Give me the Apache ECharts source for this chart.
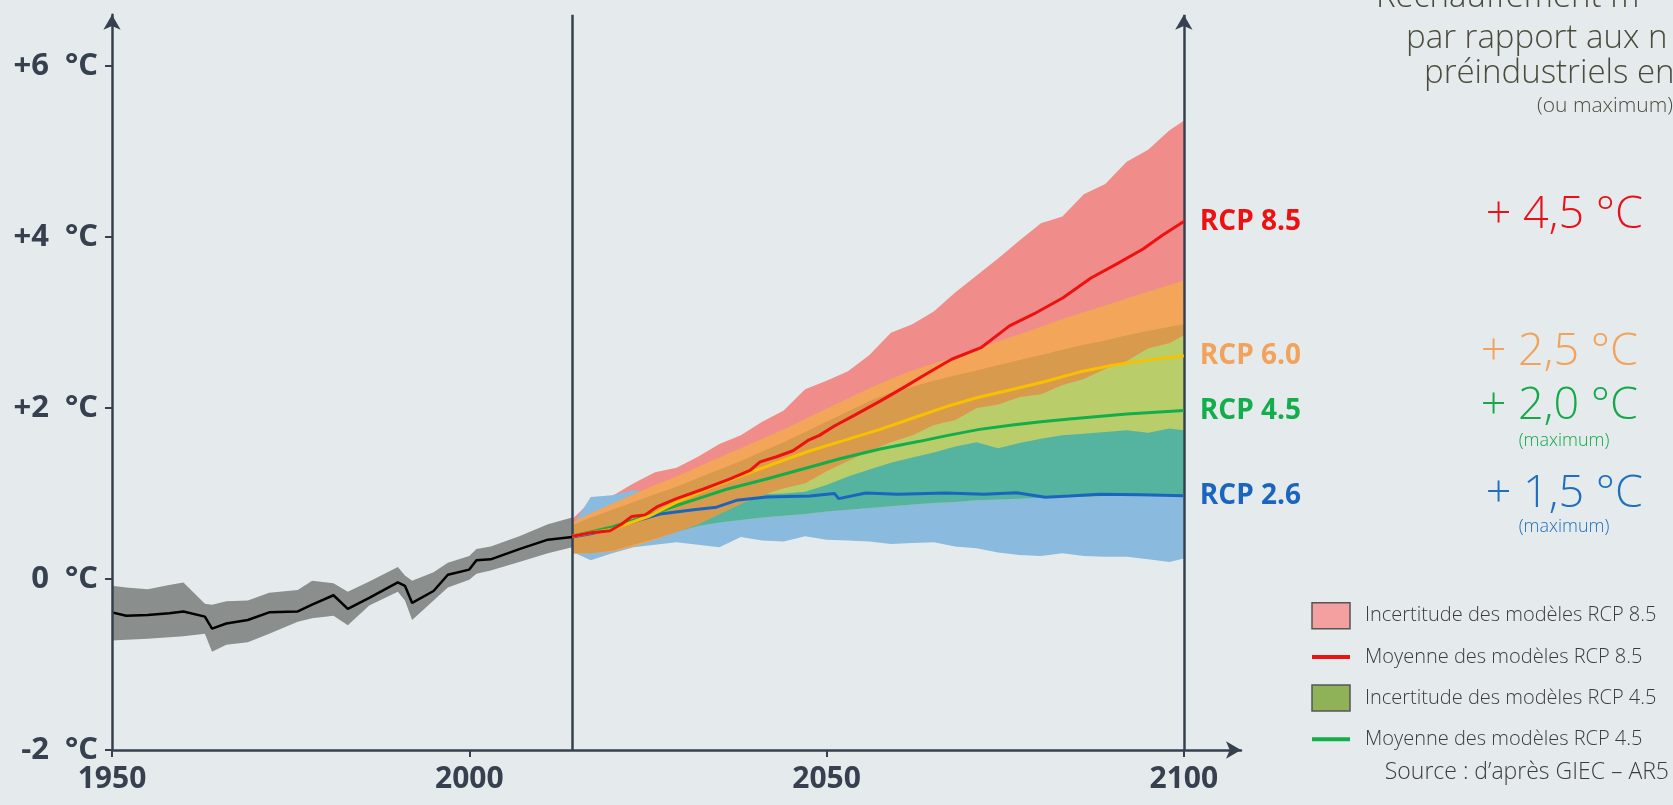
<!DOCTYPE html>
<html>
<head>
<meta charset="utf-8">
<script src="https://cdn.jsdelivr.net/npm/echarts@6/dist/echarts.min.js"></script>
<style>
  html, body { margin: 0; padding: 0; background: #e5ebec; }
  #chart { width: 1673px; height: 805px; }
</style>
</head>
<body>
<div id="chart"></div>
<script>
// observations 1950 -> 2014
const histYears = [1950, 1952, 1955, 1958, 1960, 1963, 1964, 1966, 1969, 1972, 1976, 1978, 1981, 1983, 1986, 1990, 1991, 1992, 1995, 1997, 2000, 2001, 2003, 2007, 2011, 2014.4];
const histMean = [-0.39, -0.43, -0.42, -0.40, -0.38, -0.44, -0.58, -0.52, -0.48, -0.39, -0.38, -0.30, -0.19, -0.35, -0.22, -0.04, -0.08, -0.28, -0.14, 0.05, 0.11, 0.22, 0.23, 0.35, 0.46, 0.49];
const histHigh = [-0.08, -0.10, -0.12, -0.07, -0.04, -0.29, -0.30, -0.26, -0.25, -0.16, -0.13, -0.02, -0.05, -0.15, -0.03, 0.14, 0.04, -0.02, 0.08, 0.19, 0.27, 0.35, 0.38, 0.50, 0.64, 0.72];
const histLow = [-0.72, -0.71, -0.70, -0.68, -0.67, -0.64, -0.85, -0.77, -0.74, -0.64, -0.50, -0.46, -0.43, -0.54, -0.31, -0.15, -0.25, -0.48, -0.25, -0.10, -0.01, 0.06, 0.10, 0.20, 0.30, 0.37];

// model ranges, common year grid
const projYears = [2014.4, 2017, 2020, 2023, 2026, 2029, 2032, 2035, 2038, 2041, 2044, 2047, 2050, 2053, 2056, 2059, 2062, 2065, 2068, 2071, 2074, 2077, 2080, 2083, 2086, 2089, 2092, 2095, 2098, 2100];
const rcp85High = [0.70, 0.91, 0.97, 1.12, 1.25, 1.30, 1.43, 1.58, 1.68, 1.84, 1.97, 2.22, 2.32, 2.43, 2.62, 2.88, 2.98, 3.13, 3.35, 3.55, 3.75, 3.96, 4.16, 4.24, 4.50, 4.62, 4.88, 5.02, 5.25, 5.36];
const rcp85Low = [0.30, 0.30, 0.36, 0.42, 0.48, 0.56, 0.66, 0.78, 0.90, 1.02, 1.14, 1.27, 1.40, 1.52, 1.65, 1.78, 1.90, 2.02, 2.14, 2.26, 2.38, 2.50, 2.62, 2.74, 2.86, 2.96, 3.06, 3.14, 3.22, 3.27];
const rcp60High = [0.66, 0.77, 0.88, 0.99, 1.10, 1.20, 1.31, 1.42, 1.53, 1.64, 1.75, 1.87, 1.99, 2.11, 2.23, 2.34, 2.44, 2.52, 2.60, 2.69, 2.78, 2.86, 2.95, 3.04, 3.12, 3.20, 3.28, 3.36, 3.44, 3.49];
const rcp60Low = [0.30, 0.30, 0.32, 0.38, 0.46, 0.55, 0.64, 0.76, 0.88, 0.98, 1.06, 1.12, 1.26, 1.38, 1.50, 1.60, 1.68, 1.80, 1.86, 2.00, 2.04, 2.13, 2.16, 2.27, 2.34, 2.46, 2.55, 2.70, 2.76, 2.85];
const rcp45High = [0.63, 0.72, 0.81, 0.90, 0.99, 1.08, 1.18, 1.28, 1.38, 1.49, 1.60, 1.72, 1.84, 1.96, 2.08, 2.18, 2.25, 2.32, 2.38, 2.44, 2.50, 2.56, 2.62, 2.68, 2.74, 2.79, 2.85, 2.90, 2.95, 2.98];
const rcp45Low = [0.30, 0.30, 0.33, 0.40, 0.47, 0.55, 0.62, 0.66, 0.69, 0.72, 0.74, 0.76, 0.79, 0.81, 0.83, 0.85, 0.87, 0.89, 0.90, 0.92, 0.93, 0.94, 0.95, 0.96, 0.96, 0.97, 0.97, 0.97, 0.97, 0.97];
const rcp26High = [0.62, 0.96, 0.98, 1.04, 1.00, 1.00, 1.00, 1.00, 0.99, 0.99, 1.00, 1.02, 1.10, 1.20, 1.28, 1.36, 1.42, 1.48, 1.55, 1.60, 1.53, 1.59, 1.64, 1.68, 1.70, 1.72, 1.74, 1.71, 1.76, 1.74];
const rcp26Low = [0.32, 0.22, 0.30, 0.37, 0.40, 0.43, 0.40, 0.37, 0.49, 0.45, 0.44, 0.50, 0.46, 0.45, 0.44, 0.41, 0.42, 0.43, 0.38, 0.36, 0.31, 0.28, 0.27, 0.30, 0.27, 0.26, 0.26, 0.23, 0.20, 0.24];

// model means
const rcp85Years = [2014.4, 2017, 2019.7, 2021.3, 2022.7, 2024.6, 2026.4, 2029, 2032.7, 2036.5, 2039.3, 2040.7, 2043, 2045.3, 2047.4, 2049, 2051.1, 2054, 2057.5, 2061, 2064, 2067.5, 2071.7, 2075.6, 2079, 2083.1, 2087, 2090.5, 2094.3, 2097, 2100];
const rcp85Mean = [0.50, 0.54, 0.565, 0.64, 0.73, 0.75, 0.85, 0.94, 1.05, 1.17, 1.27, 1.37, 1.43, 1.50, 1.62, 1.68, 1.79, 1.92, 2.08, 2.25, 2.40, 2.57, 2.71, 2.96, 3.10, 3.29, 3.52, 3.68, 3.86, 4.02, 4.18];
const rcp60Years = [2014.4, 2017, 2019.7, 2022, 2025.3, 2029, 2033.7, 2038.8, 2043, 2047.7, 2052, 2057.5, 2062, 2067.3, 2071, 2076.1, 2080.6, 2085.4, 2090, 2095, 2100];
const rcp60Mean = [0.50, 0.54, 0.575, 0.64, 0.74, 0.90, 1.07, 1.23, 1.36, 1.50, 1.61, 1.75, 1.88, 2.03, 2.12, 2.22, 2.31, 2.42, 2.50, 2.56, 2.61];
const rcp45Years = [2014.4, 2017, 2020, 2023.4, 2026, 2029, 2032, 2036, 2041.6, 2047.7, 2052, 2057.5, 2063, 2067, 2071.4, 2076, 2080, 2084, 2088, 2092, 2096, 2100];
const rcp45Mean = [0.50, 0.55, 0.61, 0.70, 0.77, 0.86, 0.94, 1.05, 1.17, 1.31, 1.41, 1.52, 1.61, 1.68, 1.75, 1.80, 1.84, 1.87, 1.90, 1.93, 1.95, 1.97];
const rcp26Years = [2014.4, 2017, 2019.7, 2023.4, 2026.7, 2031.4, 2034.6, 2037.4, 2041.6, 2047.7, 2051.1, 2051.7, 2055.5, 2060, 2066.7, 2072, 2076.6, 2080.6, 2084, 2088.2, 2094, 2100];
const rcp26Mean = [0.49, 0.53, 0.58, 0.68, 0.76, 0.81, 0.84, 0.92, 0.96, 0.97, 1.00, 0.94, 1.005, 0.99, 1.005, 0.99, 1.01, 0.955, 0.97, 0.99, 0.985, 0.975];

const yTicks = [-2, 0, 2, 4, 6];
const xTicks = [1950, 2000, 2050, 2100];
const splitYear = 2014.4;

const axisColor = '#36404f';
const fontFamily = "'Open Sans', 'Noto Sans', 'DejaVu Sans', sans-serif";

// filled range drawn as one polygon: upper edge forward, lower edge back
function band(name, years, low, high, color) {
  const rows = years.map((y, i) => [y, low[i], high[i]]);
  return {
    name: name,
    type: 'custom',
    silent: true,
    z: 2,
    data: rows,
    encode: { x: 0, y: [1, 2] },
    renderItem: function (params, api) {
      if (params.dataIndex !== 0) return null;
      const top = [];
      const bottom = [];
      rows.forEach(function (r) {
        top.push(api.coord([r[0], r[2]]));
        bottom.unshift(api.coord([r[0], r[1]]));
      });
      return { type: 'polygon', shape: { points: top.concat(bottom) }, style: { fill: color } };
    }
  };
}

// common part of two ranges
function overlap(lowA, highA, lowB, highB) {
  const lo = lowA.map((v, i) => Math.max(v, lowB[i]));
  const hi = highA.map((v, i) => Math.max(lo[i], Math.min(v, highB[i])));
  return [lo, hi];
}

function mean(name, years, vals, color, tag, tagColor) {
  const s = {
    name: name,
    type: 'line',
    silent: true,
    z: 5,
    symbol: 'none',
    data: years.map((y, i) => [y, vals[i]]),
    lineStyle: { color: color, width: 3 },
    itemStyle: { color: color }
  };
  if (tag) {
    s.endLabel = { show: true, formatter: tag, color: tagColor || color, fontSize: 28, fontWeight: 'bold', fontFamily: fontFamily, distance: 16 };
  }
  return s;
}

const teal = overlap(rcp26Low, rcp26High, rcp45Low, rcp45High);
const darkOrange = overlap(rcp60Low, rcp60High, rcp45Low, rcp45High);

const histLine = mean('Observations', histYears, histMean, '#000000');
histLine.lineStyle.width = 2.5;
histLine.markLine = {
  silent: true,
  symbol: ['none', 'none'],
  label: { show: false },
  lineStyle: { color: axisColor, width: 2.5, type: 'solid' },
  data: [
    [{ coord: [splitYear, -2] }, { coord: [splitYear, 6.6] }],
    [{ coord: [2100, -2] }, { coord: [2100, 6.6], symbol: 'arrow', symbolSize: [13, 15] }]
  ]
};

function note(text, x, y, size, color, align) {
  return {
    type: 'text', x: x, y: y, z: 20,
    style: { text: text, fontSize: size, fontFamily: fontFamily, fontWeight: 300, fill: color, align: align || 'left', verticalAlign: 'middle' }
  };
}

const chart = echarts.init(document.getElementById('chart'));

chart.setOption({
  backgroundColor: '#e5ebec',
  animation: false,
  grid: { left: 112, right: 432, top: 14.7, bottom: 55 },
  xAxis: {
    type: 'value', min: 1950, max: 2108, interval: 50, z: 10,
    axisLine: { show: true, onZero: false, symbol: ['none', 'arrow'], symbolSize: [13, 15], lineStyle: { color: axisColor, width: 2.5 } },
    axisTick: { show: true, length: 7, customValues: xTicks, lineStyle: { color: axisColor, width: 2 } },
    axisLabel: { customValues: xTicks, margin: 14, fontSize: 30, fontWeight: 'bold', color: axisColor, fontFamily: fontFamily, formatter: v => String(v) },
    splitLine: { show: false }
  },
  yAxis: {
    type: 'value', min: -2, max: 6.6, interval: 2, z: 10,
    axisLine: { show: true, onZero: false, symbol: ['none', 'arrow'], symbolSize: [13, 15], lineStyle: { color: axisColor, width: 2.5 } },
    axisTick: { show: true, length: 7, customValues: yTicks, lineStyle: { color: axisColor, width: 2 } },
    axisLabel: {
      customValues: yTicks, margin: 14, fontSize: 31, fontWeight: 'bold', color: axisColor, fontFamily: fontFamily,
      formatter: v => (v > 0 ? '+' : '') + v + '  °C'
    },
    splitLine: { show: false }
  },
  legend: {
    orient: 'vertical', left: 1305, top: 597,
    itemWidth: 38, itemHeight: 26, itemGap: 17,
    selectedMode: false,
    textStyle: { fontFamily: fontFamily, fontSize: 20, fontWeight: 300, color: '#3c3c3c', padding: [0, 0, 0, 10] },
    data: [
      { name: 'Incertitude des modèles RCP 8.5', icon: 'rect', itemStyle: { color: '#f5a0a0', borderColor: '#555555', borderWidth: 1.5 } },
      { name: 'Moyenne des modèles RCP 8.5', itemStyle: { opacity: 0 }, lineStyle: { width: 4 } },
      { name: 'Incertitude des modèles RCP 4.5', icon: 'rect', itemStyle: { color: '#8fb158', borderColor: '#555555', borderWidth: 1.5 } },
      { name: 'Moyenne des modèles RCP 4.5', itemStyle: { opacity: 0 }, lineStyle: { width: 4 } }
    ]
  },
  graphic: [
    note('Réchauffement m', 1376, -2, 33, '#4b4c3e'),
    note('par rapport aux n', 1406, 39, 33, '#4b4c3e'),
    note('préindustriels en', 1424, 74, 33, '#4b4c3e'),
    note('(ou maximum)', 1537, 106, 21, '#4b4c3e'),
    note('+ 4,5 °C', 1643, 215, 45, '#e8101a', 'right'),
    note('+ 2,5 °C', 1638, 352, 45, '#f2a25a', 'right'),
    note('+ 2,0 °C', 1638, 406, 45, '#14a84a', 'right'),
    note('(maximum)', 1564, 441, 18, '#14a84a', 'center'),
    note('+ 1,5 °C', 1643, 494, 45, '#1f6fbf', 'right'),
    note('(maximum)', 1564, 527, 18, '#1f6fbf', 'center'),
    note('Source : d’après GIEC – AR5', 1669, 772, 23, '#3c3c3c', 'right')
  ],
  series: [
    band('Incertitude observations', histYears, histLow, histHigh, '#8a8e8d'),
    band('Incertitude des modèles RCP 8.5', projYears, rcp85Low, rcp85High, '#f08d8b'),
    band('Incertitude des modèles RCP 2.6', projYears, rcp26Low, rcp26High, '#8abadd'),
    band('Incertitude des modèles RCP 4.5', projYears, rcp45Low, rcp45High, '#b9ce6b'),
    band('Recouvrement RCP 2.6 / 4.5', projYears, teal[0], teal[1], '#55b4a0'),
    band('Incertitude des modèles RCP 6.0', projYears, rcp60Low, rcp60High, '#f3a659'),
    band('Recouvrement RCP 6.0 / 4.5', projYears, darkOrange[0], darkOrange[1], '#d89a4c'),
    histLine,
    mean('Moyenne des modèles RCP 2.6', rcp26Years, rcp26Mean, '#1a66bf', 'RCP 2.6'),
    mean('Moyenne des modèles RCP 4.5', rcp45Years, rcp45Mean, '#14ad4b', 'RCP 4.5'),
    mean('Moyenne des modèles RCP 6.0', rcp60Years, rcp60Mean, '#f8c000', 'RCP 6.0', '#f2a25a'),
    mean('Moyenne des modèles RCP 8.5', rcp85Years, rcp85Mean, '#ee1111', 'RCP 8.5')
  ]
});

window.addEventListener('resize', () => chart.resize());
</script>
</body>
</html>
